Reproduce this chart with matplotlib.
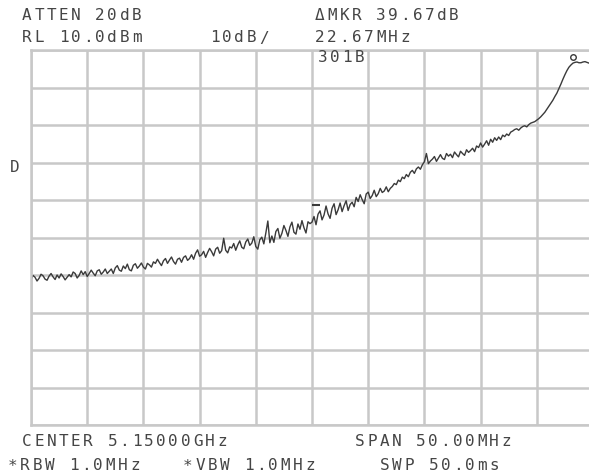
import matplotlib.pyplot as plt
import numpy as np

# swept trace, dBm per sweep point (281 points across the 50 MHz span)
trace = [
    -51.3, -50.1, -50.6, -51.6, -50.9, -49.8, -50.2, -51.1, -51.4, -50.3,
    -49.6, -50.5, -51.2, -50.0, -50.8, -49.7, -50.4, -51.3, -50.6, -49.9,
    -50.5, -49.2, -49.6, -50.8, -50.1, -48.9, -49.9, -49.1, -50.4, -49.6,
    -48.7, -49.5, -50.2, -48.9, -48.6, -49.8, -49.2, -48.4, -49.6, -49.0,
    -48.4, -49.6, -48.1, -47.5, -48.7, -49.0, -47.6, -48.3, -47.1, -48.6,
    -48.9, -47.4, -47.0, -48.2, -47.6, -46.8, -47.9, -48.4, -46.9, -47.3,
    -47.9, -46.5, -46.9, -45.8, -46.7, -47.5, -46.2, -45.6, -46.9, -46.0,
    -45.2, -46.4, -47.1, -45.8, -45.5, -46.6, -45.3, -44.9, -46.1, -45.6,
    -44.6, -45.8, -44.2, -43.3, -45.0, -44.6, -43.7, -45.3, -44.0, -42.9,
    -43.8, -44.9, -43.1, -42.6, -44.2, -43.5, -40.2, -43.4, -44.1, -42.5,
    -42.8, -41.6, -43.4, -42.0, -40.9, -42.6, -43.0, -41.2, -40.4, -42.1,
    -41.5, -39.8, -42.4, -43.1, -40.6, -39.9, -41.7, -38.8, -35.6, -41.4,
    -39.6, -41.3, -38.4, -37.6, -40.2, -38.9, -36.8, -38.1, -39.7, -37.2,
    -35.9, -38.6, -39.1, -36.4, -37.8, -35.5, -37.4, -38.8, -35.8, -36.3,
    -35.9, -34.4, -36.6, -33.8, -32.9, -35.3, -34.0, -31.6, -33.7, -34.9,
    -32.2, -31.0, -33.9, -32.6, -30.8, -33.1, -31.5, -30.2, -32.8, -31.2,
    -30.6, -31.8, -29.3, -30.4, -28.6, -29.9, -31.0, -28.4, -27.9, -29.6,
    -28.8, -27.4, -29.1, -28.3, -26.9, -28.0, -27.6, -26.5, -27.8, -26.9,
    -26.4, -25.6, -25.9, -24.7, -25.1, -23.9, -24.3, -23.2, -23.8, -22.6,
    -22.1, -22.9, -21.7, -21.2, -21.8, -20.6, -19.8, -17.6, -20.3, -19.6,
    -19.1, -18.4, -19.7, -18.8, -17.9, -18.9, -19.2, -17.6, -18.3, -17.8,
    -18.7, -17.2, -17.9, -18.5, -17.0, -17.6, -18.1, -16.6, -17.3, -16.8,
    -16.2, -17.1, -15.6, -16.0, -14.8, -15.9, -15.1, -14.2, -15.4, -13.8,
    -14.6, -13.4, -14.1, -13.2, -13.9, -12.7, -13.1, -12.4, -12.8, -11.9,
    -11.6, -11.2, -11.0, -11.4, -10.8, -10.4, -10.2, -10.5, -9.9, -9.5,
    -9.3, -9.1, -8.7, -8.3, -7.8, -7.2, -6.6, -5.8, -5.0, -4.2,
    -3.4, -2.4, -1.5, -0.3, 0.9, 2.2, 3.4, 4.5, 5.4, 6.0,
    6.5, 6.7, 6.8, 6.6, 6.6, 6.8, 6.9, 6.7, 6.5, 6.6, 6.6,
]
ref_level = 10.0    # dBm, top of screen
db_per_div = 10
n_div = 10

mkr_idx = 270       # delta marker
ref_mkr_idx = 142   # delta reference marker
ref_mkr_val = -31.3

top_left = ["ATTEN 20dB", "RL 10.0dBm"]
top_mid = "10dB/"
top_right = ["\u0394MKR 39.67dB", "22.67MHz", "301B"]
bottom_left = ["CENTER 5.15000GHz", "*RBW 1.0MHz"]
bottom_mid = "*VBW 1.0MHz"
bottom_right = ["SPAN 50.00MHz", "SWP 50.0ms"]

W, H = 589, 474
fig = plt.figure(figsize=(W / 100, H / 100), dpi=100)
fig.patch.set_facecolor('white')

# screen graticule: left 31px, top 50px, 56.2px x 37.5px divisions
ax = fig.add_axes([31 / W, 1 - 425 / H, 562 / W, 375 / H])
npts = len(trace)
x = np.arange(npts)
ax.set_xlim(0, npts - 1)
bottom = ref_level - n_div * db_per_div
ax.set_ylim(bottom, ref_level)
ax.set_xticks(np.linspace(0, npts - 1, n_div + 1))
ax.set_yticks(np.arange(bottom, ref_level + 1, db_per_div))
ax.tick_params(length=0, labelbottom=False, labelleft=False)
ax.grid(True, color='#c8c8c8', linewidth=1.8)
for s in ax.spines.values():
    s.set_color('#c8c8c8')
    s.set_linewidth(1.8)

ax.plot(x, trace, color='#3a3a3a', linewidth=1.0)
ax.plot(mkr_idx, trace[mkr_idx] + 1.6, marker='o', markersize=4,
        markerfacecolor='white', markeredgecolor='#3a3a3a', markeredgewidth=1)
ax.plot(ref_mkr_idx, ref_mkr_val, marker='_', markersize=6,
        markeredgecolor='#3a3a3a', markeredgewidth=1.5)

# dot-matrix style annotation, fixed character pitch
pitch = 12.2


def screen_text(s, x0, yc):
    for k, ch in enumerate(s):
        fig.text((x0 + k * pitch) / W, 1 - yc / H, ch, ha='left', va='center',
                 family='DejaVu Sans Mono', fontsize=11.5, color='#454545')


screen_text(top_left[0], 22, 16)
screen_text(top_left[1], 22, 38)
screen_text(top_mid, 210, 38)
screen_text(top_right[0], 315, 16)
screen_text(top_right[1], 315, 38)
screen_text(top_right[2], 318, 58)
screen_text("D", 10, 168)
screen_text(bottom_left[0], 22, 442)
screen_text(bottom_right[0], 355, 442)
screen_text(bottom_left[1], 8, 466)
screen_text(bottom_mid, 183, 466)
screen_text(bottom_right[1], 380, 466)

fig.savefig('out.png', dpi=100, facecolor='white')
